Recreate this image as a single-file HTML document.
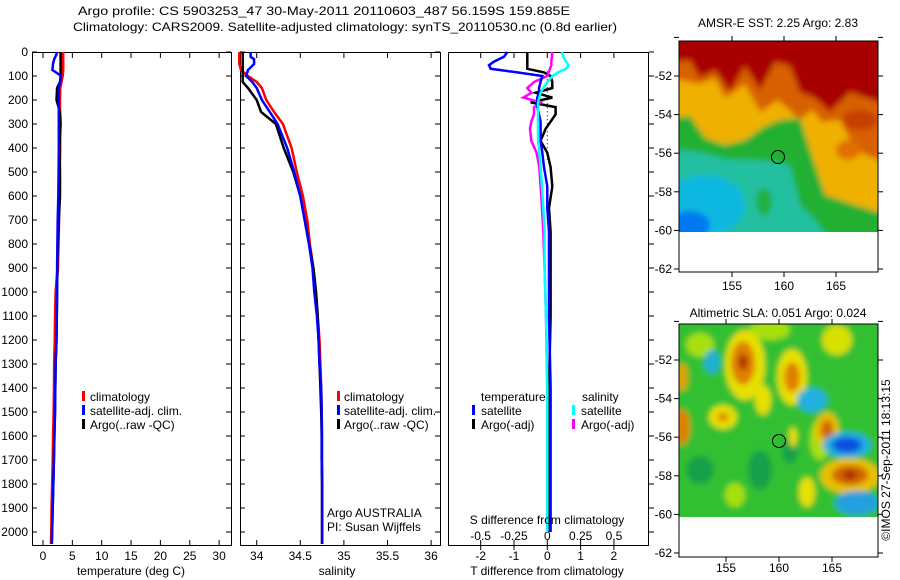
<!DOCTYPE html>
<html><head><meta charset="utf-8"><style>
html,body{margin:0;padding:0;background:#fff;}
svg{display:block;font-family:"Liberation Sans",sans-serif;}
text{font-size:12px;fill:#000;}
</style></head><body>
<svg id="chart" width="900" height="580" viewBox="0 0 900 580">
<defs>
<filter id="bl" x="-20%" y="-20%" width="140%" height="140%"><feGaussianBlur stdDeviation="3"/></filter>
<clipPath id="c1"><rect x="679" y="41" width="199" height="191"/></clipPath>
<clipPath id="c2"><rect x="679" y="324" width="199" height="193"/></clipPath>
</defs>
<text x="78" y="15" textLength="492" lengthAdjust="spacingAndGlyphs" font-size="14">Argo profile: CS 5903253_47 30-May-2011 20110603_487 56.159S 159.885E</text>
<text x="73" y="31" textLength="544" lengthAdjust="spacingAndGlyphs" font-size="14">Climatology: CARS2009. Satellite-adjusted climatology: synTS_20110530.nc (0.8d earlier)</text>

<!-- map 1 -->
<g>
<g clip-path="url(#c1)" filter="url(#bl)">
<rect x="670" y="30" width="220" height="210" fill="#a80000"/>
<path d="M670,62 L690,60 700,78 715,70 730,92 745,66 760,90 775,62 790,66 800,92 815,98 830,112 850,92 878,102 890,102 890,240 670,240Z" fill="#d86000"/>
<path d="M670,78 L700,84 715,78 725,98 745,84 760,112 778,100 800,120 812,110 822,122 840,120 855,150 878,160 890,160 890,240 670,240Z" fill="#f0b000"/>
<path d="M670,118 L690,116 705,138 725,145 745,140 765,126 780,120 800,118 810,150 825,195 855,205 878,212 890,212 890,240 670,240Z" fill="#22b030"/>
<path d="M670,150 L700,152 730,160 760,160 790,165 800,205 815,220 830,240 670,240Z" fill="#20c0a0"/>
<ellipse cx="705" cy="205" rx="40" ry="30" fill="#10b8e0"/>
<ellipse cx="690" cy="225" rx="20" ry="14" fill="#0078f0"/>
<ellipse cx="764" cy="202" rx="8" ry="14" fill="#20b040"/>
<ellipse cx="848" cy="150" rx="12" ry="10" fill="#e07000"/>
<ellipse cx="860" cy="120" rx="18" ry="10" fill="#c84000"/>
</g>
<rect x="679" y="41" width="199" height="231" fill="none" stroke="#000"/>
<circle cx="778" cy="157" r="6.5" fill="none" stroke="#000"/>
<text x="778" y="27" text-anchor="middle">AMSR-E SST: 2.25 Argo: 2.83</text>
</g>
<!-- map 2 -->
<g>
<g clip-path="url(#c2)" filter="url(#bl)">
<rect x="670" y="315" width="220" height="210" fill="#30c030"/>
<ellipse cx="700" cy="345" rx="14" ry="12" fill="#a8e010"/>
<ellipse cx="770" cy="330" rx="20" ry="10" fill="#a8e010"/>
<ellipse cx="820" cy="440" rx="10" ry="20" fill="#a8e010"/>
<ellipse cx="700" cy="470" rx="14" ry="14" fill="#18a048"/>
<ellipse cx="760" cy="470" rx="12" ry="20" fill="#18a048"/>
<ellipse cx="735" cy="495" rx="10" ry="12" fill="#a8e010"/>
<ellipse cx="790" cy="450" rx="8" ry="14" fill="#18a048"/>
<ellipse cx="745" cy="365" rx="20" ry="35" fill="#e8e000"/>
<ellipse cx="743" cy="363" rx="12" ry="22" fill="#e08000"/>
<ellipse cx="743" cy="362" rx="5" ry="8" fill="#b03000"/>
<ellipse cx="792" cy="377" rx="15" ry="28" fill="#e8e000"/>
<ellipse cx="792" cy="377" rx="8" ry="15" fill="#e08000"/>
<ellipse cx="763" cy="400" rx="8" ry="15" fill="#e8e000"/>
<ellipse cx="723" cy="417" rx="14" ry="12" fill="#e8e000"/>
<ellipse cx="723" cy="417" rx="6" ry="5" fill="#e09000"/>
<ellipse cx="682" cy="427" rx="8" ry="18" fill="#e08000"/>
<ellipse cx="682" cy="377" rx="6" ry="14" fill="#e0a000"/>
<ellipse cx="793" cy="437" rx="4" ry="10" fill="#e8e000"/>
<ellipse cx="827" cy="430" rx="12" ry="18" fill="#e8c000"/>
<ellipse cx="827" cy="430" rx="6" ry="10" fill="#d06000"/>
<ellipse cx="850" cy="476" rx="30" ry="18" fill="#e8c000"/>
<ellipse cx="850" cy="475" rx="18" ry="10" fill="#d06000"/>
<ellipse cx="850" cy="475" rx="6" ry="4" fill="#a02000"/>
<ellipse cx="807" cy="492" rx="8" ry="15" fill="#e8e000"/>
<ellipse cx="847" cy="445" rx="24" ry="13" fill="#20b0e0"/>
<ellipse cx="847" cy="445" rx="15" ry="8" fill="#1050e0"/>
<ellipse cx="812" cy="400" rx="15" ry="12" fill="#20b0e0"/>
<ellipse cx="712" cy="362" rx="8" ry="12" fill="#20b0d0"/>
<ellipse cx="857" cy="503" rx="22" ry="12" fill="#20a0e0"/>
<ellipse cx="837" cy="340" rx="15" ry="15" fill="#d8e000"/>
</g>
<rect x="679" y="324" width="199" height="233" fill="none" stroke="#000"/>
<circle cx="779" cy="441" r="6.5" fill="none" stroke="#000"/>
<text x="778" y="317" text-anchor="middle">Altimetric SLA: 0.051 Argo: 0.024</text>
</g>
<text transform="translate(890,460) rotate(-90)" text-anchor="middle">©IMOS 27-Sep-2011 18:13:15</text>

<g id="axes"></g>
<g id="series"></g>

<!-- legends -->
<g>
<rect x="82" y="391" width="3" height="10" fill="#f00"/><text x="90" y="401">climatology</text>
<rect x="82" y="405" width="3" height="10" fill="#00f"/><text x="90" y="415">satellite-adj. clim.</text>
<rect x="82" y="419" width="3" height="10" fill="#000"/><text x="90" y="429">Argo(..raw -QC)</text>
</g>
<g>
<rect x="337" y="391" width="3" height="10" fill="#f00"/><text x="344" y="401">climatology</text>
<rect x="337" y="405" width="3" height="10" fill="#00f"/><text x="344" y="415">satellite-adj. clim.</text>
<rect x="337" y="419" width="3" height="10" fill="#000"/><text x="344" y="429">Argo(..raw -QC)</text>
</g>
<text x="327" y="517">Argo AUSTRALIA</text>
<text x="327" y="531">PI: Susan Wijffels</text>
<g>
<text x="481" y="401">temperature</text><text x="582" y="401">salinity</text>
<rect x="472" y="405" width="3" height="10" fill="#00f"/><text x="481" y="415">satellite</text>
<rect x="472" y="419" width="3" height="10" fill="#000"/><text x="481" y="429">Argo(-adj)</text>
<rect x="572" y="405" width="3" height="10" fill="#0ff"/><text x="581" y="415">satellite</text>
<rect x="572" y="419" width="3" height="10" fill="#f0f"/><text x="581" y="429">Argo(-adj)</text>
</g>
<text x="547" y="524" text-anchor="middle">S difference from climatology</text>
<text x="547" y="575" text-anchor="middle">T difference from climatology</text>
<text x="131" y="575" text-anchor="middle">temperature (deg C)</text>
<text x="337" y="575" text-anchor="middle">salinity</text>
</svg>
<script>
const depthTicks=[0,100,200,300,400,500,600,700,800,900,1000,1100,1200,1300,1400,1500,1600,1700,1800,1900,2000];
const tempTicks=[0,5,10,15,20,25,30];
const salTicks=[34,34.5,35,35.5,36];
const tDiffTicks=[-2,-1,0,1,2];
const sDiffTicks=[-0.5,-0.25,0,0.25,0.5];
const sDiffTickLabels=["-0.5","-0.25","0","0.25","0.5"];
const latTicks=[-50,-52,-54,-56,-58,-60,-62];
const lonTicks=[155,160,165];

const depth=[0,10,20,30,50,75,100,125,150,200,250,300,400,500,600,700,800,900,1000,1100,1200,1300,1400,1500,1600,1700,1800,1900,2000,2050];
const tempClim=[3.4,3.4,3.4,3.4,3.4,3.4,3.3,3.1,2.9,2.85,2.85,2.85,2.9,2.8,2.75,2.7,2.6,2.5,2.2,2.1,2.05,1.95,1.9,1.85,1.75,1.7,1.6,1.5,1.45,1.4];
const tempSat=[2.3,2.3,2.1,1.9,1.7,1.6,3.1,2.9,2.7,2.7,2.7,2.7,2.7,2.65,2.6,2.5,2.45,2.4,2.4,2.35,2.3,2.15,2.1,2.05,1.95,1.85,1.75,1.65,1.55,1.5];
const tempArgo=[3.0,3.0,3.0,3.0,3.0,3.0,3.0,2.9,2.4,2.3,2.9,3.0,2.8,2.9,2.9,2.7,2.5,2.45,2.4,2.35,2.3,2.15,2.1,2.05,1.95,1.85,1.75,1.65,1.55,1.5];
const salClim=[33.8,33.8,33.8,33.8,33.8,33.82,33.9,34.0,34.06,34.11,34.2,34.3,34.4,34.46,34.53,34.58,34.61,34.65,34.68,34.7,34.72,34.73,34.74,34.745,34.75,34.75,34.75,34.75,34.75,34.75];
const salSat=[33.93,33.93,33.93,33.97,33.97,33.9,33.88,33.95,34.0,34.06,34.15,34.24,34.35,34.43,34.5,34.55,34.6,34.64,34.66,34.69,34.71,34.72,34.74,34.745,34.745,34.745,34.75,34.75,34.75,34.75];
const salArgo=[33.84,33.84,33.84,33.84,33.84,33.84,33.84,33.84,33.9,34.0,34.05,34.22,34.31,34.42,34.5,34.55,34.6,34.65,34.68,34.7,34.71,34.72,34.73,34.74,34.745,34.745,34.75,34.75,34.75,34.75];

const dDepth=[0,20,40,55,70,85,100,125,150,170,190,210,230,260,290,320,370,420,480,560,650,750,900,1100,1400,1700,2000];
const tDiffSat=[-1.2,-1.3,-1.6,-1.75,-1.7,-0.9,-0.15,-0.2,-0.25,-0.25,-0.3,-0.3,-0.3,-0.25,-0.2,-0.2,-0.2,-0.15,-0.1,0,0,0.05,0.05,0.05,0.1,0.1,0.1];
const tDiffArgo=[-0.6,-0.6,-0.6,-0.6,-0.6,-0.1,0.1,0.15,0.15,-0.35,0.15,-0.5,0.25,0.25,0.1,-0.05,-0.2,0,0.1,0.15,0.05,0.1,0.1,0.1,0.05,0.05,0.05];
const sDiffArgo=[0.035,0.035,0.03,0.03,0.02,0.01,0,-0.1,-0.15,-0.12,-0.18,-0.05,-0.1,-0.1,-0.12,-0.13,-0.12,-0.08,-0.06,-0.05,-0.04,-0.03,-0.02,-0.01,0,0,0];
const sDiffSat=[0.11,0.12,0.14,0.16,0.14,0.08,0.04,0,-0.03,-0.05,-0.06,-0.07,-0.07,-0.07,-0.07,-0.07,-0.07,-0.06,-0.05,-0.04,-0.03,-0.02,-0.02,-0.01,0,0,0];

const NS='http://www.w3.org/2000/svg';
const yD=d=>52+d*0.24;
const xT=t=>43+t*5.87;
const xS=s=>256.7+(s-34)*87.2;
const xTd=v=>547.3+v*33.3;
const xSd=v=>547.3+v*133.3;
const yLat1=l=>76+(-52-l)*19.3;
const yLat2=l=>360+(-52-l)*19.3;
const xLon1=l=>784+(l-160)*10.4;
const xLon2=l=>779+(l-160)*10.6;
const axes=document.getElementById('axes');
const series=document.getElementById('series');
function mk(tag,attrs,parent){const e=document.createElementNS(NS,tag);for(const k in attrs)e.setAttribute(k,attrs[k]);parent.appendChild(e);return e;}
function txt(x,y,s,anchor,parent){const e=mk('text',{x:x,y:y,'text-anchor':anchor},parent);e.textContent=s;return e;}

const panels=[[32,231,'temperature-panel'],[240,440,'salinity-panel'],[448,648,'difference-panel']];
panels.forEach(p=>{
  const r=mk('rect',{x:p[0]+0.5,y:52.5,width:p[1]-p[0],height:493,fill:'none',stroke:'#000'},axes);
  
  
});
depthTicks.forEach(d=>{
  const y=yD(d);
  mk('line',{x1:32,x2:37,y1:y,y2:y,stroke:'#000'},axes);
  mk('line',{x1:226,x2:231,y1:y,y2:y,stroke:'#000'},axes);
  mk('line',{x1:240,x2:245,y1:y,y2:y,stroke:'#000'},axes);
  mk('line',{x1:435,x2:440,y1:y,y2:y,stroke:'#000'},axes);
  mk('line',{x1:649,x2:654,y1:y,y2:y,stroke:'#000'},axes);
  const t=txt(28,y+4,String(d),'end',axes);
  
  
});
tempTicks.forEach(v=>{const x=xT(v);mk('line',{x1:x,x2:x,y1:540,y2:545,stroke:'#000'},axes);mk('line',{x1:x,x2:x,y1:53,y2:58,stroke:'#000'},axes);
  const t=txt(x,560,String(v),'middle',axes);});
salTicks.forEach(v=>{const x=xS(v);mk('line',{x1:x,x2:x,y1:540,y2:545,stroke:'#000'},axes);mk('line',{x1:x,x2:x,y1:53,y2:58,stroke:'#000'},axes);
  const t=txt(x,560,String(v),'middle',axes);});
tDiffTicks.forEach(v=>{const x=xTd(v);mk('line',{x1:x,x2:x,y1:545,y2:550,stroke:'#000'},axes);mk('line',{x1:x,x2:x,y1:53,y2:58,stroke:'#000'},axes);
  const t=txt(x,560,String(v),'middle',axes);});
sDiffTicks.forEach((v,i)=>{const x=xSd(v);mk('line',{x1:x,x2:x,y1:540,y2:545,stroke:'#000'},axes);
  const t=txt(x,540,sDiffTickLabels[i],'middle',axes);});
latTicks.forEach(l=>{
  [[yLat1,41,272],[yLat2,324,557]].forEach(m=>{const y=m[0](l);if(y<m[1]-6||y>m[2]+1)return;
    mk('line',{x1:674,x2:679,y1:y,y2:y,stroke:'#000'},axes);mk('line',{x1:878,x2:883,y1:y,y2:y,stroke:'#000'},axes);
    if(y>=m[1]){const t=txt(672,y+4,String(l),'end',axes);}});
});
lonTicks.forEach(l=>{
  let x=xLon1(l);mk('line',{x1:x,x2:x,y1:272,y2:277,stroke:'#000'},axes);mk('line',{x1:x,x2:x,y1:36,y2:41,stroke:'#000'},axes);
  let t=txt(x,290,String(l),'middle',axes);
  x=xLon2(l);mk('line',{x1:x,x2:x,y1:557,y2:562,stroke:'#000'},axes);mk('line',{x1:x,x2:x,y1:319,y2:324,stroke:'#000'},axes);
  t=txt(x,572,String(l),'middle',axes);
});
mk('line',{x1:xTd(0),x2:xTd(0),y1:yD(80),y2:yD(450),stroke:'#000','stroke-dasharray':'1,3'},axes);

function line(xs,ys,fx,color,w,name){
  const pts=xs.map((v,i)=>fx(v).toFixed(1)+','+yD(ys[i]).toFixed(1)).join(' ');
  const p=mk('polyline',{points:pts,fill:'none',stroke:color,'stroke-width':w},series);
  
  
}
line(tempClim,depth,xT,'#f00',3,'temperature-climatology-line');
line(tempArgo,depth,xT,'#000',2.5,'temperature-argo-line');
line(tempSat,depth,xT,'#00f',2.5,'temperature-satellite-line');
line(salClim,depth,xS,'#f00',2.5,'salinity-climatology-line');
line(salArgo,depth,xS,'#000',2.5,'salinity-argo-line');
line(salSat,depth,xS,'#00f',2.5,'salinity-satellite-line');
line(tDiffArgo,dDepth,xTd,'#000',2.5,'t-difference-argo-line');
line(sDiffArgo,dDepth,xSd,'#f0f',2.5,'s-difference-argo-line');
line(tDiffSat,dDepth,xTd,'#00f',2.5,'t-difference-satellite-line');
line(sDiffSat,dDepth,xSd,'#0ff',2.5,'s-difference-satellite-line');
</script>
</body></html>
